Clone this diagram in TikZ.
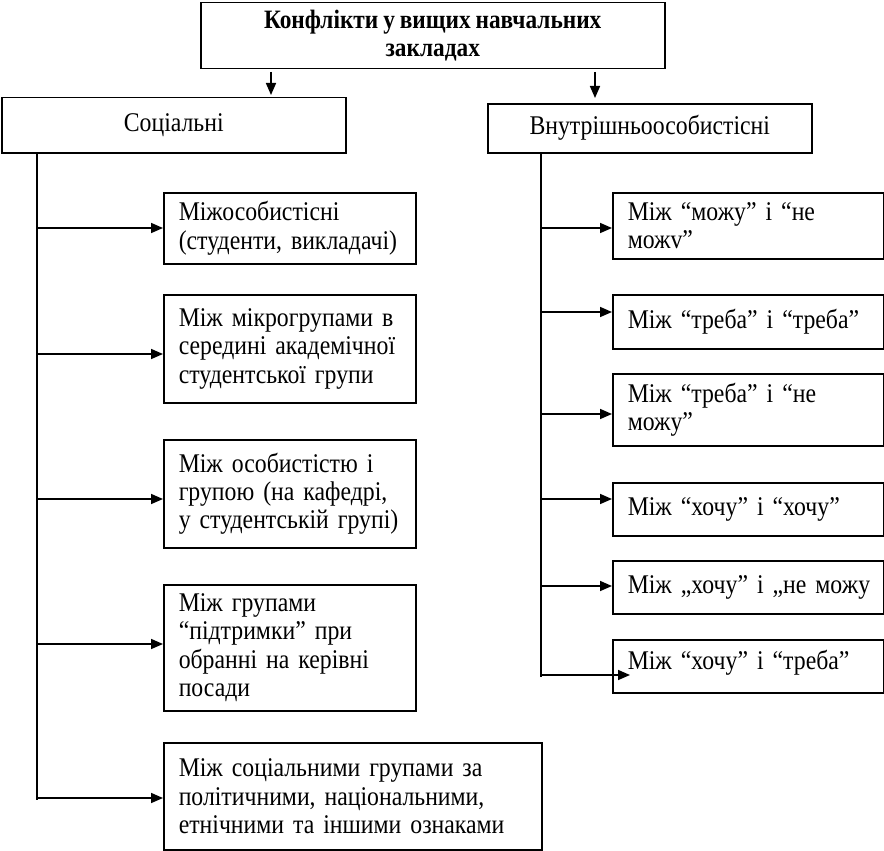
\documentclass[tikz,border=0pt]{standalone}
\usepackage{fontspec}
\setmainfont{Liberation Serif}[FakeStretch=0.88,WordSpace=0.85]
\usetikzlibrary{arrows.meta}
\begin{document}
\begin{tikzpicture}[x=1pt,y=-1pt,
  box/.style={draw,line width=1.5pt,rectangle,anchor=north west,inner ysep=0pt,
    font=\fontsize{27}{28.3}\selectfont},
  lbox/.style={box,inner xsep=10pt,text width=#1,
    execute at begin node={\raggedright\leftskip=5pt\relax}},
  arr/.style={line width=1.6pt,-{Triangle[length=12pt,width=10pt]}},
  trunk/.style={line width=1.3pt}]
\useasboundingbox (0,0) rectangle (884,851);

% top
\node[box,minimum width=464pt,minimum height=66pt,inner xsep=0pt,align=center,
  font=\fontsize{26.5}{28.3}\selectfont\bfseries] (top) at (200,2)
  {Конфлікти у вищих навчальних\\закладах};
\node[box,minimum width=344pt,minimum height=55pt,inner xsep=0pt] (soc) at (1,97) {Соціальні};
\node[box,minimum width=324pt,minimum height=49pt,inner xsep=0pt] (int) at (487,103) {Внутрішньоособистісні};

\coordinate (t1) at (271,72);
\coordinate (t2) at (595,72);
\draw[arr,shorten >=2pt] (t1) -- (t1 |- soc.north);
\draw[arr,shorten >=5pt] (t2) -- (t2 |- int.north);

% left children
\node[lbox=232pt,minimum height=71pt] (b1) at (163,192) {Міжособистісні\\(студенти, викладачі)};
\node[lbox=232pt,minimum height=108pt] (b2) at (163,294) {Між мікрогрупами в\\середині академічної\\студентської групи};
\node[lbox=232pt,minimum height=108pt] (b3) at (163,439) {Між особистістю і\\групою (на кафедрі,\\у студентській групі)};
\node[lbox=232pt,minimum height=126pt] (b4) at (163,584) {Між групами\\“підтримки” при\\обранні на керівні\\посади};
\node[lbox=358pt,minimum height=107pt] (b5) at (163,742) {Між соціальними групами за\\політичними, національними,\\етнічними та іншими ознаками};

% right children
\node[lbox=251pt,minimum height=66pt] (r1) at (612,192) {Між “можу” і “не\\можv”};
\node[lbox=251pt,minimum height=54pt] (r2) at (612,294) {Між “треба” і “треба”};
\node[lbox=251pt,minimum height=72pt] (r3) at (612,373) {Між “треба” і “не\\можу”};
\node[lbox=251pt,minimum height=53pt] (r4) at (612,482) {Між “хочу” і “хочу”};
\node[lbox=251pt,minimum height=53pt] (r5) at (612,560) {Між „хочу” і „не можу};
\node[lbox=251pt,minimum height=53pt,text depth=12pt] (r6) at (612,639) {Між “хочу” і “треба”};

% trunks
\coordinate (Lx) at (37,0);
\coordinate (Lend) at (37,800);
\draw[trunk] (soc.south -| Lx) -- (Lend);
\coordinate (Rx) at (541,0);
\coordinate (Rend) at (541,677);
\draw[trunk] (int.south -| Rx) -- (Rend);

\foreach \n/\yy in {b1/228,b2/354,b3/499,b4/644,b5/798}{
  \coordinate (s) at (37,\yy);
  \draw[arr] (s) -- (s -| \n.west);
}
\foreach \n/\yy in {r1/228,r2/312,r3/414,r4/499,r5/586}{
  \coordinate (s) at (541,\yy);
  \draw[arr] (s) -- (s -| \n.west);
}
\coordinate (s6) at (541,675);
\draw[arr] (s6) -- ([xshift=18pt]s6 -| r6.west);
\end{tikzpicture}
\end{document}
